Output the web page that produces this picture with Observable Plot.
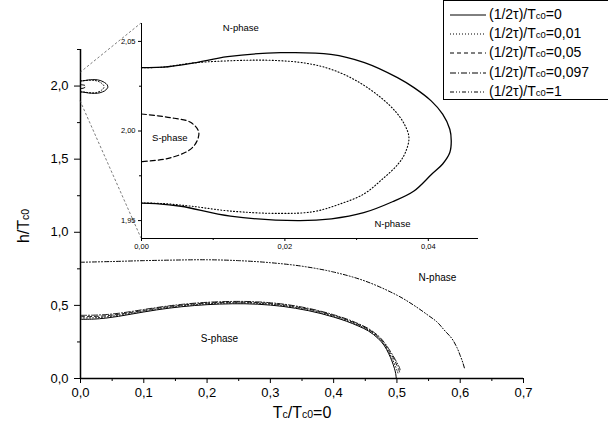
<!DOCTYPE html>
<html><head><meta charset="utf-8">
<script src="https://cdn.jsdelivr.net/npm/d3@7"></script>
<script src="https://cdn.jsdelivr.net/npm/@observablehq/plot@0.6"></script>
<style>
body{margin:0;background:#fff;overflow:hidden;font-family:"Liberation Sans",Arial,sans-serif}
#wrap{position:relative;width:608px;height:436px;overflow:hidden;background:#fff}
#wrap > *{position:absolute}
#legend{left:443px;top:0;width:200px;height:100px;border:1px solid #000;background:#fff;box-sizing:border-box;padding-top:4px}
.row{height:19.3px;display:flex;align-items:center;white-space:nowrap;font-size:14px;line-height:14px;color:#000}
.row svg{margin-left:6px;margin-right:3px}
.sub{font-size:9.5px}
</style>
</head><body><div id="wrap"></div>
<script>
// ---------- data ----------
const seriesNames = ["(1/2τ)/Tc0=0", "(1/2τ)/Tc0=0,01", "(1/2τ)/Tc0=0,05", "(1/2τ)/Tc0=0,097", "(1/2τ)/Tc0=1"];
const seriesDash = [null, "1,2", "4,3", "6,2,1,2", "4,2,1,2,1,2"];

// main S/N boundary curves
const mainTau0 = [[0,0.405],[0.02,0.406],[0.04,0.413],[0.06,0.425],[0.08,0.44],[0.10,0.455],[0.12,0.469],[0.14,0.481],[0.16,0.491],[0.18,0.499],[0.20,0.505],[0.22,0.509],[0.24,0.511],[0.26,0.511],[0.28,0.508],[0.30,0.502],[0.32,0.493],[0.34,0.480],[0.36,0.464],[0.38,0.444],[0.40,0.420],[0.42,0.392],[0.44,0.357],[0.455,0.325],[0.47,0.275],[0.48,0.225],[0.487,0.17],[0.492,0.12],[0.496,0.07],[0.498,0.035],[0.499,0]];
const mainTau001 = [[0,0.414],[0.02,0.415],[0.04,0.421],[0.06,0.432],[0.08,0.446],[0.10,0.461],[0.12,0.475],[0.14,0.487],[0.16,0.497],[0.18,0.505],[0.20,0.511],[0.22,0.515],[0.24,0.517],[0.26,0.517],[0.28,0.514],[0.30,0.508],[0.32,0.499],[0.34,0.486],[0.36,0.470],[0.38,0.450],[0.40,0.426],[0.42,0.398],[0.44,0.363],[0.455,0.331],[0.47,0.282],[0.48,0.233],[0.487,0.18],[0.493,0.13],[0.498,0.08],[0.501,0.045],[0.502,0.03]];
const mainTau005 = [[0,0.423],[0.02,0.424],[0.04,0.429],[0.06,0.439],[0.08,0.452],[0.10,0.466],[0.12,0.48],[0.14,0.492],[0.16,0.502],[0.18,0.51],[0.20,0.516],[0.22,0.52],[0.24,0.522],[0.26,0.522],[0.28,0.519],[0.30,0.513],[0.32,0.504],[0.34,0.491],[0.36,0.475],[0.38,0.455],[0.40,0.431],[0.42,0.403],[0.44,0.368],[0.455,0.336],[0.47,0.288],[0.48,0.240],[0.488,0.185],[0.495,0.135],[0.5,0.09],[0.503,0.06],[0.504,0.045]];
const mainTau0097 = [[0,0.432],[0.02,0.433],[0.04,0.437],[0.06,0.446],[0.08,0.458],[0.10,0.472],[0.12,0.485],[0.14,0.497],[0.16,0.507],[0.18,0.515],[0.20,0.521],[0.22,0.525],[0.24,0.527],[0.26,0.527],[0.28,0.524],[0.30,0.518],[0.32,0.509],[0.34,0.496],[0.36,0.48],[0.38,0.46],[0.40,0.436],[0.42,0.408],[0.44,0.373],[0.455,0.341],[0.47,0.294],[0.48,0.247],[0.489,0.19],[0.496,0.14],[0.501,0.10],[0.504,0.075],[0.505,0.06]];
const mainTau1 = [[0,0.795],[0.05,0.800],[0.10,0.806],[0.15,0.810],[0.20,0.812],[0.25,0.806],[0.30,0.792],[0.35,0.768],[0.40,0.728],[0.45,0.666],[0.50,0.570],[0.527,0.50],[0.55,0.43],[0.5635,0.386],[0.575,0.33],[0.587,0.272],[0.595,0.21],[0.600,0.157],[0.604,0.11],[0.607,0.066]];

// re-entrant islands near h/Tc0 = 2
const islandTau0 = [[0,2.0354],[0.003,2.0356],[0.0073,2.038],[0.012,2.0415],[0.0194,2.0437],[0.0264,2.0428],[0.0311,2.0382],[0.0357,2.0298],[0.038,2.0242],[0.0404,2.0168],[0.042,2.0094],[0.043,2.001],[0.0432,1.9944],[0.043,1.988],[0.042,1.9816],[0.0405,1.976],[0.038,1.9665],[0.035,1.9605],[0.031,1.9544],[0.0265,1.951],[0.0218,1.950],[0.0124,1.9525],[0.0055,1.958],[0.002,1.9595],[0,1.9598]];
const islandTau001 = [[0,2.0354],[0.003,2.0356],[0.0073,2.038],[0.0148,2.0395],[0.019,2.0393],[0.023,2.0378],[0.0264,2.0345],[0.030,2.028],[0.0334,2.0186],[0.0355,2.0105],[0.0367,2.0035],[0.0373,1.9963],[0.0368,1.988],[0.0358,1.9816],[0.0335,1.9728],[0.031,1.9648],[0.0275,1.959],[0.024,1.955],[0.0194,1.954],[0.0124,1.9553],[0.007,1.958],[0.003,1.9595],[0,1.9598]];
const islandTau005 = [[0,2.0095],[0.004,2.0075],[0.0069,2.0047],[0.008,1.999],[0.0071,1.9907],[0.004,1.985],[0,1.9829]];

// ticks
const xMajor = [0,0.1,0.2,0.3,0.4,0.5,0.6,0.7];
const xMinor = [0.05,0.15,0.25,0.35,0.45,0.55,0.65];
const yMajor = [0,0.5,1.0,1.5,2.0];
const yMinor = [0.25,0.75,1.25,1.75,2.25];
const insetXMajor = [0,0.02,0.04];
const insetXMinor = [0.01,0.03];
const insetYMajor = [1.95,2.0,2.05];
const insetYMinor = [1.975,2.025];

// phase annotations (data coordinates)
const mainLabels = [{x:0.564,y:0.692,t:"N-phase"},{x:0.2196,y:0.274,t:"S-phase"}];
const insetLabels = [{x:0.01385,y:2.0574,t:"N-phase"},{x:0.00394,y:1.9959,t:"S-phase"},{x:0.035,y:1.9479,t:"N-phase"}];

// ---------- drawing ----------
const FONT = "'Liberation Sans', Arial, sans-serif";
const comma = f => d => d3.format(f)(d).replace(".", ",");
const ln = (data, dash, sw) => Plot.line(data, {x: d => d[0], y: d => d[1], stroke: "#000", strokeWidth: sw, strokeDasharray: dash || undefined, curve: "catmull-rom"});

const wrap = document.getElementById("wrap");

const main = Plot.plot({
  width: 608, height: 436,
  marginLeft: 80, marginRight: 85, marginTop: 49, marginBottom: 58,
  x: {domain: [0, 0.7]}, y: {domain: [0, 2.25]},
  style: {fontFamily: FONT, background: "transparent", color: "#000", overflow: "visible"},
  marks: [
    Plot.axisX(xMajor, {tickSize: 5, tickPadding: 4, tickFormat: comma(".1f"), label: null}),
    Plot.axisX(xMinor, {tickSize: 3, tickFormat: () => "", label: null}),
    Plot.axisY(yMajor, {tickSize: 6, tickPadding: 6, tickFormat: comma(".1f"), label: null}),
    Plot.axisY(yMinor, {tickSize: 3, tickFormat: () => "", label: null}),
    Plot.ruleX([0], {strokeWidth: 1.5}),
    Plot.ruleY([0], {strokeWidth: 1.5}),
    ln(mainTau0, seriesDash[0], 1),
    ln(mainTau001, seriesDash[1], 0.9),
    ln(mainTau005, seriesDash[2], 0.9),
    ln(mainTau0097, seriesDash[3], 0.9),
    ln(mainTau1, seriesDash[4], 1),
    ln(islandTau0, seriesDash[0], 1),
    ln(islandTau001, seriesDash[1], 1),
    ln(islandTau005, seriesDash[2], 1),
    Plot.text(mainLabels, {x: "x", y: "y", text: "t", fontSize: 10, fill: "#000"})
  ]
});
main.style.left = "0px"; main.style.top = "0px";
wrap.appendChild(main);
d3.select(main).selectAll('g[aria-label$="tick label"], g[aria-label$="tick label"] text').style("font-size", "13px");

// inset
const IL = 111, IT = 18, IW = 373, IH = 236, IML = 30, IMR = 6, IMT = 5, IMB = 16;
const inset = Plot.plot({
  width: IW, height: IH,
  marginLeft: IML, marginRight: IMR, marginTop: IMT, marginBottom: IMB,
  x: {domain: [0, 0.047]}, y: {domain: [1.94, 2.06]},
  style: {fontFamily: FONT, background: "transparent", color: "#000", overflow: "visible"},
  marks: [
    Plot.axisX(insetXMajor, {tickSize: 3, tickPadding: 2, tickFormat: comma(".2f"), label: null}),
    Plot.axisX(insetXMinor, {tickSize: 2, tickFormat: () => "", label: null}),
    Plot.axisY(insetYMajor, {tickSize: 3, tickPadding: 3, tickFormat: comma(".2f"), label: null}),
    Plot.axisY(insetYMinor, {tickSize: 2, tickFormat: () => "", label: null}),
    Plot.ruleX([0], {strokeWidth: 1}),
    Plot.ruleY([1.94], {strokeWidth: 1}),
    ln(islandTau0, seriesDash[0], 1.3),
    ln(islandTau001, "1,2.2", 1.1),
    ln(islandTau005, "5,3", 1.2),
    Plot.text(insetLabels, {x: "x", y: "y", text: "t", fontSize: 9.5, fill: "#000"})
  ]
});
inset.style.left = IL + "px"; inset.style.top = IT + "px";
d3.select(inset).selectAll('g[aria-label$="tick label"], g[aria-label$="tick label"] text').style("font-size", "7.5px");

// connectors + axis titles inside main svg
const sx = main.scale("x"), sy = main.scale("y");
const svg = d3.select(main);
const conn = [[2.09, IT + IMT], [1.897, IT + IH - IMB]];
conn.forEach(([yv, py]) => {
  svg.append("line").attr("x1", sx.apply(0)).attr("y1", sy.apply(yv))
    .attr("x2", IL + IML).attr("y2", py)
    .attr("stroke", "#444").attr("stroke-width", 0.7).attr("stroke-dasharray", "2.5,2");
});
const yt = svg.append("text").attr("transform", "translate(29,226) rotate(-90)")
  .attr("text-anchor", "middle").attr("font-size", 16).attr("fill", "#000").attr("font-family", FONT);
yt.append("tspan").text("h/T");
yt.append("tspan").attr("font-size", 10.5).text("c0");
const xt = svg.append("text").attr("x", 302).attr("y", 418)
  .attr("text-anchor", "middle").attr("font-size", 16).attr("fill", "#000").attr("font-family", FONT);
xt.append("tspan").text("T");
xt.append("tspan").attr("font-size", 10.5).text("c");
xt.append("tspan").text("/T");
xt.append("tspan").attr("font-size", 10.5).text("c0");
xt.append("tspan").text("=0");

wrap.appendChild(inset);

// legend
const leg = document.createElement("div");
leg.id = "legend";
seriesNames.forEach((name, i) => {
  const row = document.createElement("div");
  row.className = "row";
  const dash = seriesDash[i] ? ` stroke-dasharray="${seriesDash[i]}"` : "";
  const m = name.match(/^(.*)T(c0)(.*)$/);
  row.innerHTML = `<svg width="36" height="8"><line x1="0" y1="4" x2="36" y2="4" stroke="#000" stroke-width="1"${dash}/></svg><span>${m[1]}T<span class="sub">${m[2]}</span>${m[3]}</span>`;
  leg.appendChild(row);
});
wrap.appendChild(leg);
</script>
</body></html>
